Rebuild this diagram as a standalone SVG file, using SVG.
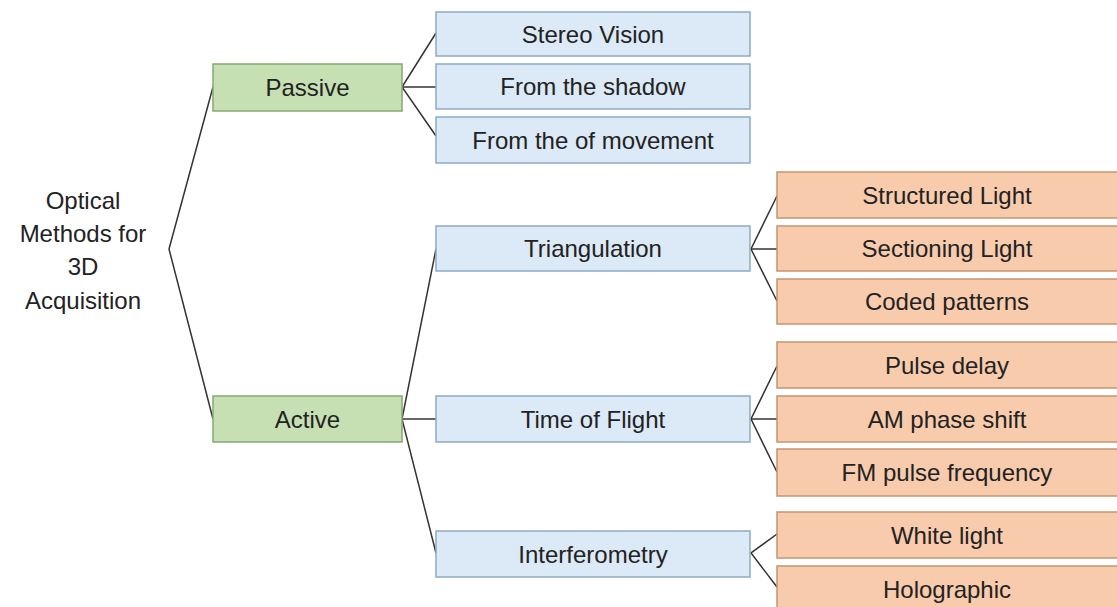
<svg xmlns="http://www.w3.org/2000/svg" width="1117" height="607" viewBox="0 0 1117 607">
<style>
  .t { font-family: "Liberation Sans", Arial, sans-serif; font-size: 24px; fill: #222; text-anchor: middle; dominant-baseline: central; }
  .g { fill: #c6e0b4; stroke: #86a96f; stroke-width: 1.5; }
  .b { fill: #dce9f6; stroke: #8eaac4; stroke-width: 1.5; }
  .o { fill: #f8cbad; stroke: #c4956f; stroke-width: 1.5; }
  .c { stroke: #333; stroke-width: 1.5; fill: none; }
</style>
<rect width="1117" height="607" fill="#fff"/>
<g id="connectors">
  <polyline class="c" points="213,87 169,249 213,419"/>
  <polyline class="c" points="436,33 402,87 436,136"/>
  <line class="c" x1="402" y1="87" x2="436" y2="87"/>
  <polyline class="c" points="436,249 402,419 436,553"/>
  <line class="c" x1="402" y1="419" x2="436" y2="419"/>
  <polyline class="c" points="777,196 751,249 777,301"/>
  <line class="c" x1="751" y1="249" x2="777" y2="249"/>
  <polyline class="c" points="777,366 751,419 777,472"/>
  <line class="c" x1="751" y1="419" x2="777" y2="419"/>
  <polyline class="c" points="777,534 751,553 777,587"/>
</g>
<g id="root">
  <text class="t" x="83" y="200">Optical</text>
  <text class="t" x="83" y="233">Methods for</text>
  <text class="t" x="83" y="266">3D</text>
  <text class="t" x="83" y="300">Acquisition</text>
</g>
<g id="passive"><rect class="g" x="213" y="64" width="189" height="47"/><text class="t" x="307.5" y="87.5">Passive</text></g>
<g id="active"><rect class="g" x="213" y="396" width="189" height="46"/><text class="t" x="307.5" y="419">Active</text></g>
<g id="stereo"><rect class="b" x="436" y="12" width="314" height="44"/><text class="t" x="593" y="34">Stereo Vision</text></g>
<g id="shadow"><rect class="b" x="436" y="64" width="314" height="45"/><text class="t" x="593" y="86.5">From the shadow</text></g>
<g id="movement"><rect class="b" x="436" y="117" width="314" height="46"/><text class="t" x="593" y="140">From the of movement</text></g>
<g id="triangulation"><rect class="b" x="436" y="226" width="314" height="45"/><text class="t" x="593" y="248.5">Triangulation</text></g>
<g id="tof"><rect class="b" x="436" y="396" width="314" height="46"/><text class="t" x="593" y="419">Time of Flight</text></g>
<g id="interferometry"><rect class="b" x="436" y="531" width="314" height="46"/><text class="t" x="593" y="554">Interferometry</text></g>
<g id="structured"><rect class="o" x="777" y="172" width="345" height="46"/><text class="t" x="947" y="195">Structured Light</text></g>
<g id="sectioning"><rect class="o" x="777" y="226" width="345" height="45"/><text class="t" x="947" y="248.5">Sectioning Light</text></g>
<g id="coded"><rect class="o" x="777" y="279" width="345" height="45"/><text class="t" x="947" y="301.5">Coded patterns</text></g>
<g id="pulse"><rect class="o" x="777" y="342" width="345" height="46"/><text class="t" x="947" y="365">Pulse delay</text></g>
<g id="am"><rect class="o" x="777" y="396" width="345" height="46"/><text class="t" x="947" y="419">AM phase shift</text></g>
<g id="fm"><rect class="o" x="777" y="449" width="345" height="47"/><text class="t" x="947" y="472.5">FM pulse frequency</text></g>
<g id="white"><rect class="o" x="777" y="512" width="345" height="46"/><text class="t" x="947" y="535">White light</text></g>
<g id="holographic"><rect class="o" x="777" y="566" width="345" height="46"/><text class="t" x="947" y="589">Holographic</text></g>
</svg>
